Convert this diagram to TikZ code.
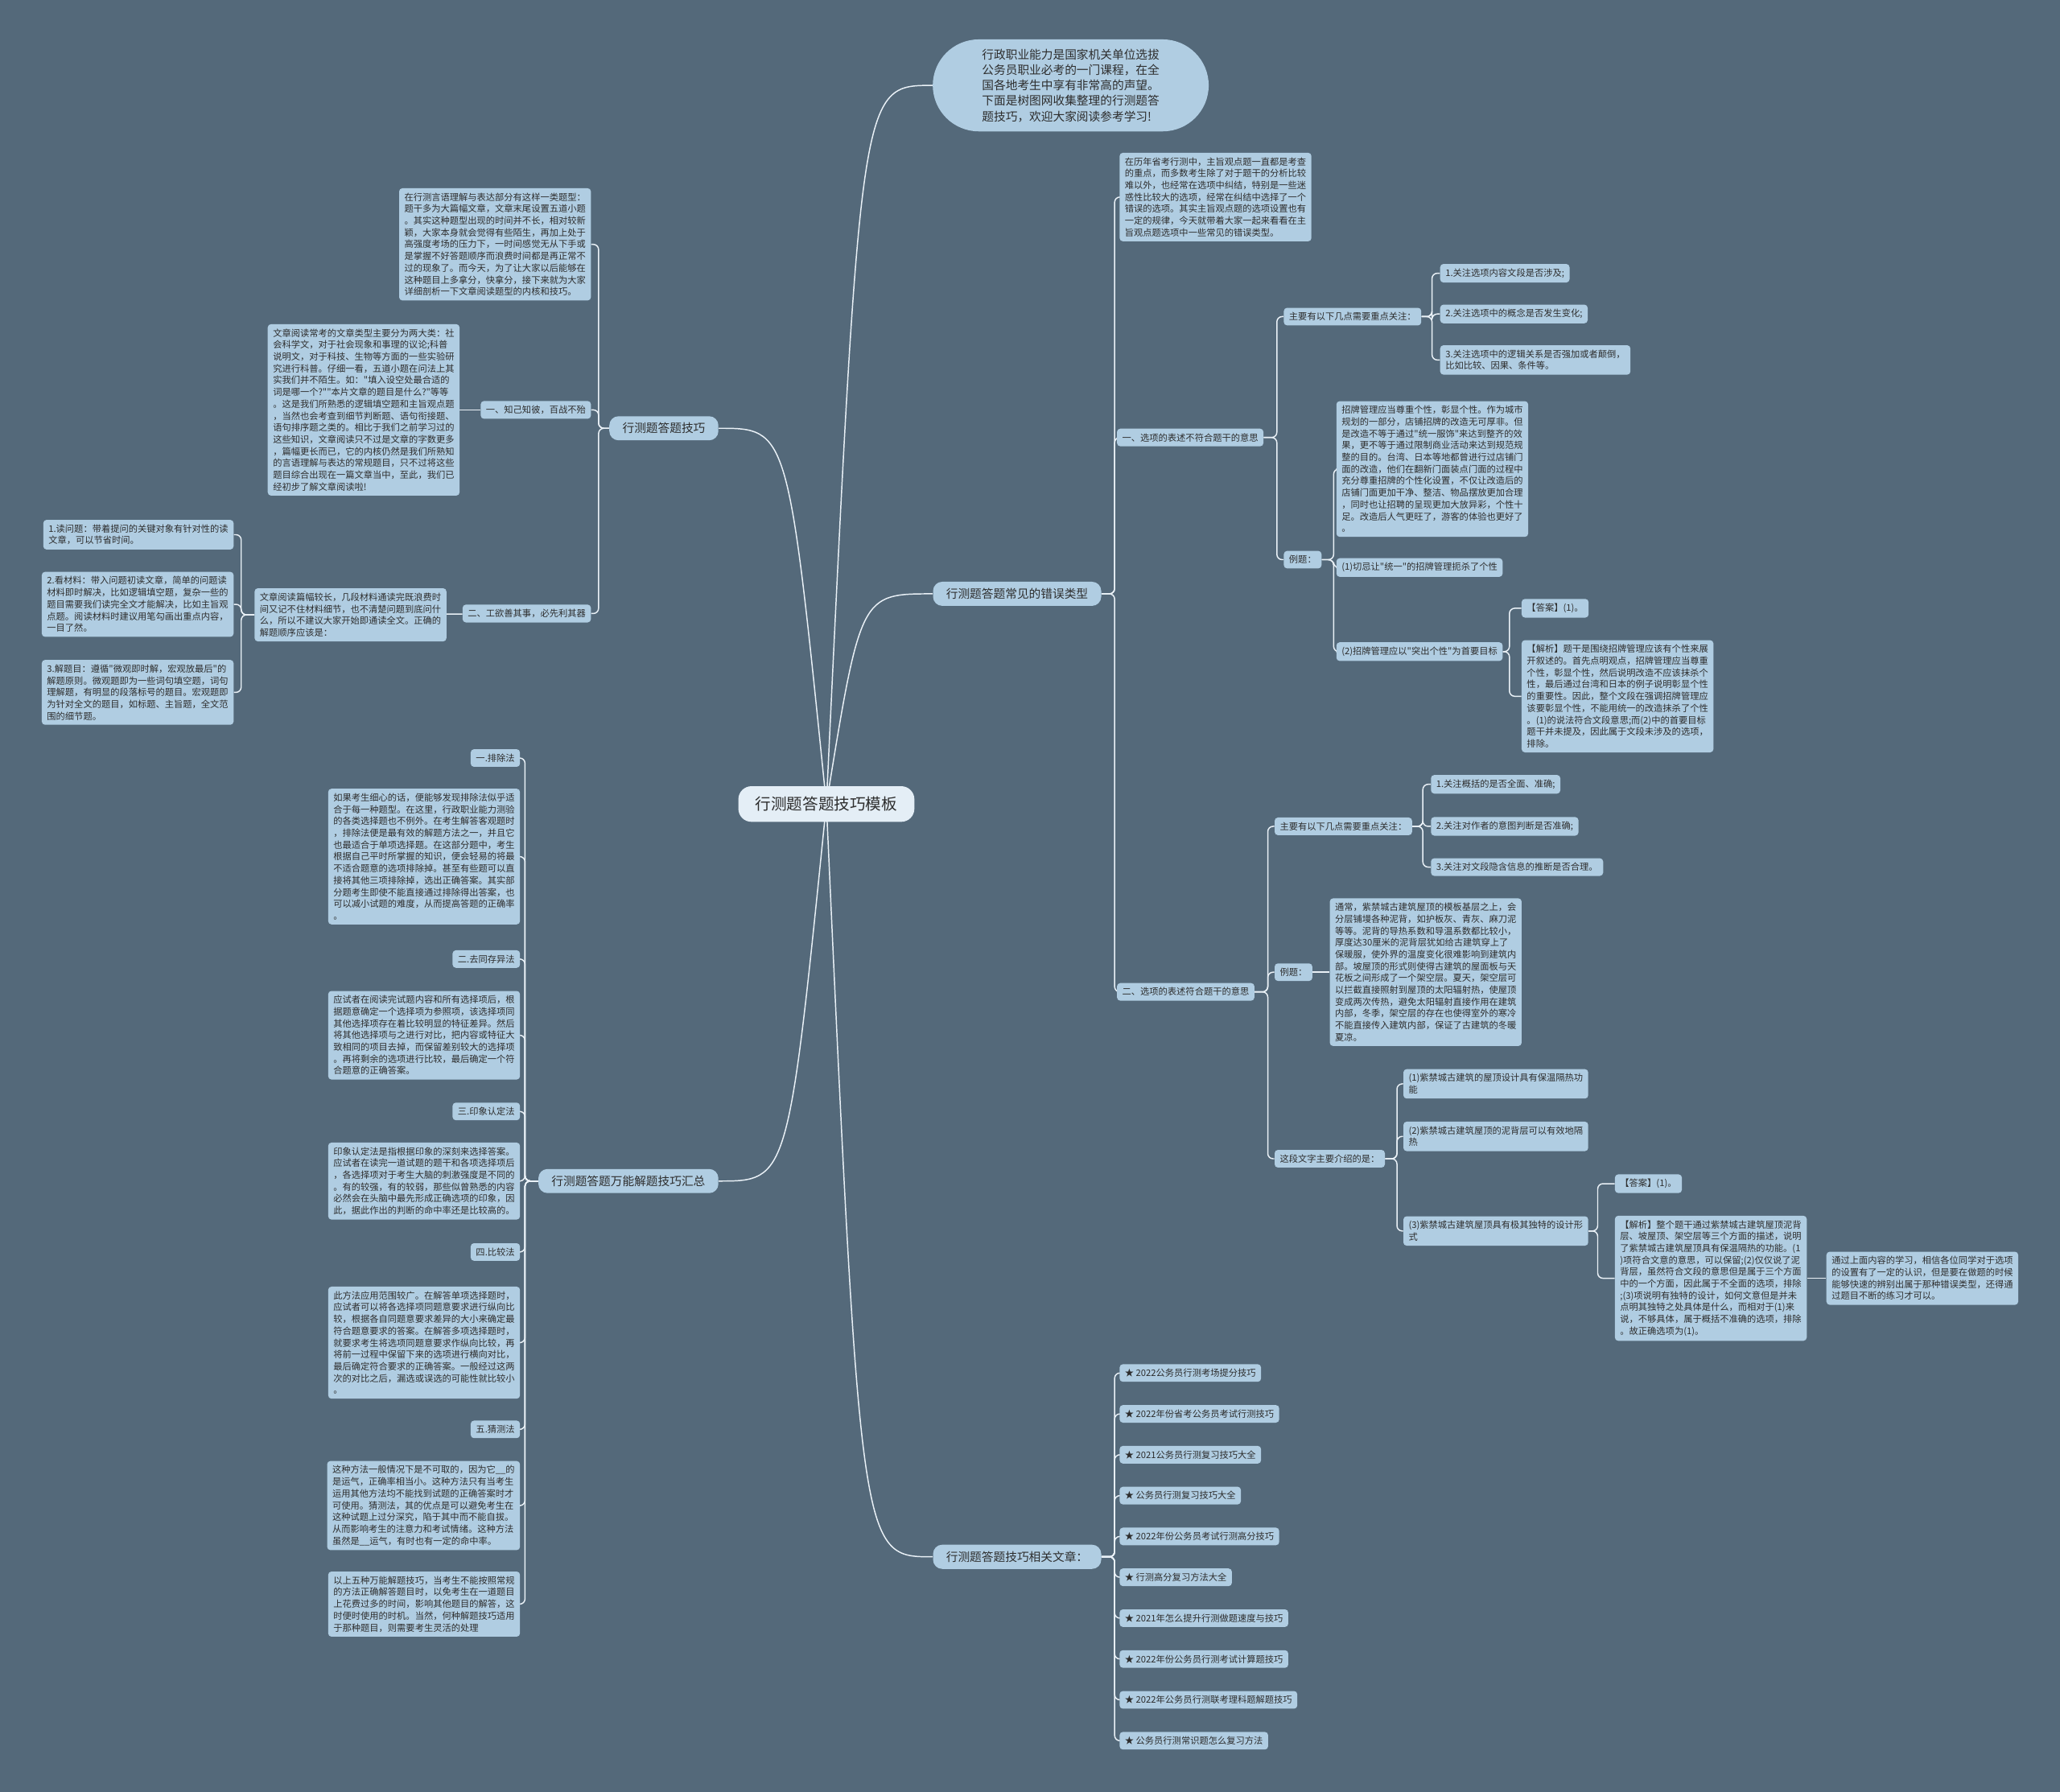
\documentclass[tikz,border=0pt]{standalone}
\usepackage{fontspec}
\newfontfamily\cjk{Noto Sans CJK SC}

\definecolor{bgcol}{RGB}{84,105,122}
\definecolor{boxcol}{RGB}{176,205,226}
\definecolor{rootcol}{RGB}{228,238,246}
\definecolor{linecol}{RGB}{234,241,247}
\definecolor{inkcol}{RGB}{45,45,45}

\pgfdeclarelayer{links}
\pgfsetlayers{links,main}

\tikzset{
  leaf/.style={fill=boxcol, rounded corners=2.5pt, inner xsep=4pt, inner ysep=3.5pt,
    align=left, text=inkcol, font=\cjk\fontsize{6.9}{9}\selectfont},
  branch/.style={fill=boxcol, rounded corners=7pt, inner xsep=10pt, inner ysep=5pt,
    text=inkcol, font=\cjk\fontsize{9}{11}\selectfont},
  rootbox/.style={fill=rootcol, rounded corners=10pt, inner xsep=13pt, inner ysep=8pt,
    text=inkcol, font=\cjk\fontsize{12}{14}\selectfont},
  pill/.style={fill=boxcol, rounded corners=35pt, minimum width=210pt, minimum height=70pt,
    align=left, text=inkcol, font=\cjk\fontsize{9}{11.8}\selectfont},
  link/.style={draw=linecol, line width=0.9pt, rounded corners=4pt}
}

\begin{document}
\begin{tikzpicture}[x=1pt,y=-1pt]
  \begin{pgfonlayer}{links}
    \fill[bgcol] (0,0) rectangle (1568,1364);
  \end{pgfonlayer}
  \useasboundingbox (0,0) rectangle (1568,1364);

  % root
  \node[rootbox] (root) at (629,612) {行测题答题技巧模板};
  \coordinate (rr) at (655,612);
  \coordinate (ll) at (600,612);

  % first level
  \node[pill] (intro) at (815,65) {行政职业能力是国家机关单位选拔\\公务员职业必考的一门课程，在全\\国各地考生中享有非常高的声望。\\下面是树图网收集整理的行测题答\\题技巧，欢迎大家阅读参考学习!};
  \node[branch,anchor=west] (errtype) at (710,452) {行测题答题常见的错误类型};
  \node[branch,anchor=west] (related) at (710,1185) {行测题答题技巧相关文章：};
  \node[branch,anchor=east] (skills) at (547,326) {行测题答题技巧};
  \node[branch,anchor=east] (methods) at (547,899) {行测题答题万能解题技巧汇总};

  % error types
  \node[leaf,anchor=west] (errintro) at (852,150) {在历年省考行测中，主旨观点题一直都是考查\\的重点，而多数考生除了对于题干的分析比较\\难以外，也经常在选项中纠结，特别是一些迷\\惑性比较大的选项，经常在纠结中选择了一个\\错误的选项。其实主旨观点题的选项设置也有\\一定的规律，今天就带着大家一起来看看在主\\旨观点题选项中一些常见的错误类型。};
  \node[leaf,anchor=west] (errone) at (850,333) {一、选项的表述不符合题干的意思};
  \node[leaf,anchor=west] (errtwo) at (850,755) {二、选项的表述符合题干的意思};

  \node[leaf,anchor=west] (onefocus) at (977,241) {主要有以下几点需要重点关注：};
  \node[leaf,anchor=west] (onea) at (1096,208) {1.关注选项内容文段是否涉及;};
  \node[leaf,anchor=west] (oneb) at (1096,239) {2.关注选项中的概念是否发生变化;};
  \node[leaf,anchor=west] (onec) at (1096,274) {3.关注选项中的逻辑关系是否强加或者颠倒，\\比如比较、因果、条件等。};
  \node[leaf,anchor=west] (oneex) at (977,426) {例题：};
  \node[leaf,anchor=west] (onetxt) at (1017,357) {招牌管理应当尊重个性，彰显个性。作为城市\\规划的一部分，店铺招牌的改造无可厚非。但\\是改造不等于通过"统一服饰"来达到整齐的效\\果，更不等于通过限制商业活动来达到规范规\\整的目的。台湾、日本等地都曾进行过店铺门\\面的改造，他们在翻新门面装点门面的过程中\\充分尊重招牌的个性化设置，不仅让改造后的\\店铺门面更加干净、整洁、物品摆放更加合理\\，同时也让招聘的呈现更加大放异彩，个性十\\足。改造后人气更旺了，游客的体验也更好了\\。};
  \node[leaf,anchor=west] (oneopta) at (1017,432) {(1)切忌让"统一"的招牌管理扼杀了个性};
  \node[leaf,anchor=west] (oneoptb) at (1017,496) {(2)招牌管理应以"突出个性"为首要目标};
  \node[leaf,anchor=west] (oneans) at (1158,463) {【答案】(1)。};
  \node[leaf,anchor=west] (oneana) at (1158,530) {【解析】题干是围绕招牌管理应该有个性来展\\开叙述的。首先点明观点，招牌管理应当尊重\\个性，彰显个性，然后说明改造不应该抹杀个\\性，最后通过台湾和日本的例子说明彰显个性\\的重要性。因此，整个文段在强调招牌管理应\\该要彰显个性，不能用统一的改造抹杀了个性\\。(1)的说法符合文段意思;而(2)中的首要目标\\题干并未提及，因此属于文段未涉及的选项，\\排除。};

  \node[leaf,anchor=west] (twofocus) at (970,629) {主要有以下几点需要重点关注：};
  \node[leaf,anchor=west] (twoa) at (1089,597) {1.关注概括的是否全面、准确;};
  \node[leaf,anchor=west] (twob) at (1089,629) {2.关注对作者的意图判断是否准确;};
  \node[leaf,anchor=west] (twoc) at (1089,660) {3.关注对文段隐含信息的推断是否合理。};
  \node[leaf,anchor=west] (twoex) at (970,740) {例题：};
  \node[leaf,anchor=west] (twotxt) at (1012,740) {通常，紫禁城古建筑屋顶的模板基层之上，会\\分层铺墁各种泥背，如护板灰、青灰、麻刀泥\\等等。泥背的导热系数和导温系数都比较小，\\厚度达30厘米的泥背层犹如给古建筑穿上了\\保暖服，使外界的温度变化很难影响到建筑内\\部。坡屋顶的形式则使得古建筑的屋面板与天\\花板之间形成了一个架空层。夏天，架空层可\\以拦截直接照射到屋顶的太阳辐射热，使屋顶\\变成两次传热，避免太阳辐射直接作用在建筑\\内部，冬季，架空层的存在也使得室外的寒冷\\不能直接传入建筑内部，保证了古建筑的冬暖\\夏凉。};
  \node[leaf,anchor=west] (twoask) at (970,882) {这段文字主要介绍的是：};
  \node[leaf,anchor=west] (twoopta) at (1068,825) {(1)紫禁城古建筑的屋顶设计具有保温隔热功\\能};
  \node[leaf,anchor=west] (twooptb) at (1068,865) {(2)紫禁城古建筑屋顶的泥背层可以有效地隔\\热};
  \node[leaf,anchor=west] (twooptc) at (1068,937) {(3)紫禁城古建筑屋顶具有极其独特的设计形\\式};
  \node[leaf,anchor=west] (twoans) at (1229,901) {【答案】(1)。};
  \node[leaf,anchor=west] (twoana) at (1229,973) {【解析】整个题干通过紫禁城古建筑屋顶泥背\\层、坡屋顶、架空层等三个方面的描述，说明\\了紫禁城古建筑屋顶具有保温隔热的功能。(1\\)项符合文意的意思，可以保留;(2)仅仅说了泥\\背层，虽然符合文段的意思但是属于三个方面\\中的一个方面，因此属于不全面的选项，排除\\;(3)项说明有独特的设计，如何文意但是并未\\点明其独特之处具体是什么，而相对于(1)来\\说，不够具体，属于概括不准确的选项，排除\\。故正确选项为(1)。};
  \node[leaf,anchor=west] (twosum) at (1390,973) {通过上面内容的学习，相信各位同学对于选项\\的设置有了一定的认识，但是要在做题的时候\\能够快速的辨别出属于那种错误类型，还得通\\过题目不断的练习才可以。};

  % related articles
  \foreach \txt [count=\i] in {2022公务员行测考场提分技巧,2022年份省考公务员考试行测技巧,2021公务员行测复习技巧大全,公务员行测复习技巧大全,2022年份公务员考试行测高分技巧,行测高分复习方法大全,2021年怎么提升行测做题速度与技巧,2022年份公务员行测考试计算题技巧,2022年公务员行测联考理科题解题技巧,公务员行测常识题怎么复习方法}
    \node[leaf,anchor=west] (rel\i) at (852,{1014+31.1*\i}) {★ \txt};

  % skills (left)
  \node[leaf,anchor=east] (skintro) at (450,186) {在行测言语理解与表达部分有这样一类题型：\\题干多为大篇幅文章，文章末尾设置五道小题\\。其实这种题型出现的时间并不长，相对较新\\颖，大家本身就会觉得有些陌生，再加上处于\\高强度考场的压力下，一时间感觉无从下手或\\是掌握不好答题顺序而浪费时间都是再正常不\\过的现象了。而今天，为了让大家以后能够在\\这种题目上多拿分，快拿分，接下来就为大家\\详细剖析一下文章阅读题型的内核和技巧。};
  \node[leaf,anchor=east] (skone) at (450,312) {一、知己知彼，百战不殆};
  \node[leaf,anchor=east] (skonetxt) at (350,312) {文章阅读常考的文章类型主要分为两大类：社\\会科学文，对于社会现象和事理的议论;科普\\说明文，对于科技、生物等方面的一些实验研\\究进行科普。仔细一看，五道小题在问法上其\\实我们并不陌生。如："填入设空处最合适的\\词是哪一个?""本片文章的题目是什么?"等等\\。这是我们所熟悉的逻辑填空题和主旨观点题\\，当然也会考查到细节判断题、语句衔接题、\\语句排序题之类的。相比于我们之前学习过的\\这些知识，文章阅读只不过是文章的字数更多\\，篇幅更长而已，它的内核仍然是我们所熟知\\的言语理解与表达的常规题目，只不过将这些\\题目综合出现在一篇文章当中，至此，我们已\\经初步了解文章阅读啦!};
  \node[leaf,anchor=east] (sktwo) at (450,467) {二、工欲善其事，必先利其器};
  \node[leaf,anchor=east] (sktwotxt) at (340,468) {文章阅读篇幅较长，几段材料通读完既浪费时\\间又记不住材料细节，也不清楚问题到底问什\\么，所以不建议大家开始即通读全文。正确的\\解题顺序应该是：};
  \node[leaf,anchor=east] (step1) at (178,407) {1.读问题：带着提问的关键对象有针对性的读\\文章，可以节省时间。};
  \node[leaf,anchor=east] (step2) at (178,460) {2.看材料：带入问题初读文章，简单的问题读\\材料即时解决，比如逻辑填空题，复杂一些的\\题目需要我们读完全文才能解决，比如主旨观\\点题。阅读材料时建议用笔勾画出重点内容，\\一目了然。};
  \node[leaf,anchor=east] (step3) at (178,527) {3.解题目：遵循"微观即时解，宏观放最后"的\\解题原则。微观题即为一些词句填空题，词句\\理解题，有明显的段落标号的题目。宏观题即\\为针对全文的题目，如标题、主旨题，全文范\\围的细节题。};

  % methods (left)
  \node[leaf,anchor=east] (m1) at (396,577) {一.排除法};
  \node[leaf,anchor=east] (m1t) at (396,652) {如果考生细心的话，便能够发现排除法似乎适\\合于每一种题型。在这里，行政职业能力测验\\的各类选择题也不例外。在考生解答客观题时\\，排除法便是最有效的解题方法之一，并且它\\也最适合于单项选择题。在这部分题中，考生\\根据自己平时所掌握的知识，便会轻易的将最\\不适合题意的选项排除掉。甚至有些题可以直\\接将其他三项排除掉，选出正确答案。其实部\\分题考生即使不能直接通过排除得出答案，也\\可以减小试题的难度，从而提高答题的正确率\\。};
  \node[leaf,anchor=east] (m2) at (396,730) {二.去同存异法};
  \node[leaf,anchor=east] (m2t) at (396,788) {应试者在阅读完试题内容和所有选择项后，根\\据题意确定一个选择项为参照项，该选择项同\\其他选择项存在着比较明显的特征差异。然后\\将其他选择项与之进行对比，把内容或特征大\\致相同的项目去掉，而保留差别较大的选择项\\。再将剩余的选项进行比较，最后确定一个符\\合题意的正确答案。};
  \node[leaf,anchor=east] (m3) at (396,846) {三.印象认定法};
  \node[leaf,anchor=east] (m3t) at (396,899) {印象认定法是指根据印象的深刻来选择答案。\\应试者在读完一道试题的题干和各项选择项后\\，各选择项对于考生大脑的刺激强度是不同的\\。有的较强，有的较弱，那些似曾熟悉的内容\\必然会在头脑中最先形成正确选项的印象，因\\此，据此作出的判断的命中率还是比较高的。};
  \node[leaf,anchor=east] (m4) at (396,953) {四.比较法};
  \node[leaf,anchor=east] (m4t) at (396,1022) {此方法应用范围较广。在解答单项选择题时，\\应试者可以将各选择项同题意要求进行纵向比\\较，根据各自同题意要求差异的大小来确定最\\符合题意要求的答案。在解答多项选择题时，\\就要求考生将选项同题意要求作纵向比较，再\\将前一过程中保留下来的选项进行横向对比，\\最后确定符合要求的正确答案。一般经过这两\\次的对比之后，漏选或误选的可能性就比较小\\。};
  \node[leaf,anchor=east] (m5) at (396,1088) {五.猜测法};
  \node[leaf,anchor=east] (m5t) at (396,1146) {这种方法一般情况下是不可取的，因为它\_\_的\\是运气，正确率相当小。这种方法只有当考生\\运用其他方法均不能找到试题的正确答案时才\\可使用。猜测法，其的优点是可以避免考生在\\这种试题上过分深究，陷于其中而不能自拔。\\从而影响考生的注意力和考试情绪。这种方法\\虽然是\_\_运气，有时也有一定的命中率。};
  \node[leaf,anchor=east] (mend) at (396,1221) {以上五种万能解题技巧，当考生不能按照常规\\的方法正确解答题目时，以免考生在一道题目\\上花费过多的时间，影响其他题目的解答，这\\时便时使用的时机。当然，何种解题技巧适用\\于那种题目，则需要考生灵活的处理};

  % connectors
  \begin{pgfonlayer}{links}
    \foreach \t in {intro,errtype,related}
      \draw[link] (root.center) .. controls (rr |- \t.west) .. (\t.west);
    \foreach \t in {skills,methods}
      \draw[link] (root.center) .. controls (ll |- \t.east) .. (\t.east);

    \foreach \c in {errintro,errone,errtwo}
      \draw[link] (errtype.east) -- ++(10,0) |- (\c.west);
    \foreach \c in {onefocus,oneex}
      \draw[link] (errone.east) -- ++(10,0) |- (\c.west);
    \foreach \c in {onea,oneb,onec}
      \draw[link] (onefocus.east) -- ++(8,0) |- (\c.west);
    \foreach \c in {onetxt,oneopta,oneoptb}
      \draw[link] (oneex.east) -- ++(9,0) |- (\c.west);
    \foreach \c in {oneans,oneana}
      \draw[link] (oneoptb.east) -- ++(5,0) |- (\c.west);

    \foreach \c in {twofocus,twoex,twoask}
      \draw[link] (errtwo.east) -- ++(10,0) |- (\c.west);
    \foreach \c in {twoa,twob,twoc}
      \draw[link] (twofocus.east) -- ++(8,0) |- (\c.west);
    \draw[link] (twoex) -- (twotxt);
    \foreach \c in {twoopta,twooptb,twooptc}
      \draw[link] (twoask.east) -- ++(9,0) |- (\c.west);
    \foreach \c in {twoans,twoana}
      \draw[link] (twooptc.east) -- ++(7,0) |- (\c.west);
    \draw[link] (twoana) -- (twosum);

    \foreach \i in {1,...,10}
      \draw[link] (related.east) -- ++(10,0) |- (rel\i.west);

    \foreach \c in {skintro,skone,sktwo}
      \draw[link] (skills.west) -- ++(-8,0) |- (\c.east);
    \draw[link] (skone) -- (skonetxt);
    \draw[link] (sktwo) -- (sktwotxt);
    \foreach \c in {step1,step2,step3}
      \draw[link] (sktwotxt.west) -- ++(-10,0) |- (\c.east);

    \foreach \c in {m1,m1t,m2,m2t,m3,m3t,m4,m4t,m5,m5t,mend}
      \draw[link] (methods.west) -- ++(-10,0) |- (\c.east);
  \end{pgfonlayer}
\end{tikzpicture}
\end{document}
